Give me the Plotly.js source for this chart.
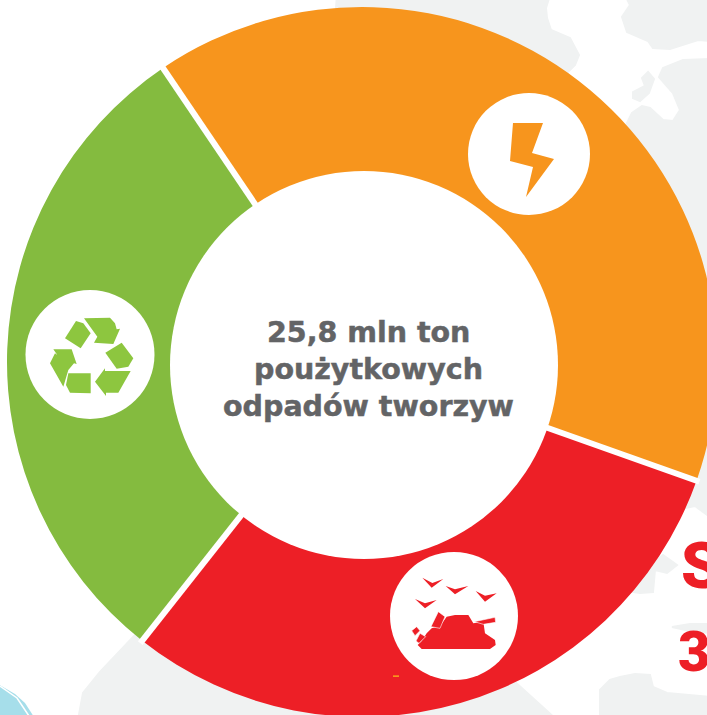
<!DOCTYPE html>
<html><head><meta charset="utf-8">
<script src="https://cdn.plot.ly/plotly-3.0.1.min.js"></script>
<style>
html,body{margin:0;padding:0;width:707px;height:715px;overflow:hidden;background:#fff}
#c{position:absolute;left:-20px;top:-20px;width:764px;height:764px}
#c .annotation-text{stroke:#636466;stroke-width:0.5px}
#c .annotation:nth-last-child(-n+2) .annotation-text{stroke:none}
</style></head><body><div id="c"></div>
<script>
// Data
var categories = ['Odzysk energii', 'Składowanie', 'Recykling'];
var values = [39.9, 30.2, 29.9];
var colors = ['#f7951d', '#ed1f26', '#84bb3f'];
var startAngle = 325.9;
var centerLines = ['25,8 mln ton', 'pou\u017Cytkowych', 'odpad\u00F3w tworzyw'];
var sideLabels = ['S', '3'];

// Geometry of the page (pixels)
var S = 764, OFF = 20, CX = 362, CY = 362, R = 355, HOLE_R = 194, HCX = 364, HCY = 365;
function px(x){return (x + OFF) / S;}
function py(y){return 1 - (y + OFF) / S;}
function pathOf(pts, close){
  return pts.map(function(p,i){return (i?'L':'M') + px(p[0]).toFixed(5) + ',' + py(p[1]).toFixed(5);}).join(' ') + (close?' Z':'');
}
function poly(pts, fill, stroke){
  return {type:'path', xref:'paper', yref:'paper', path:pathOf(pts,true), fillcolor:fill,
          line: stroke ? {color:stroke, width:0.6} : {width:0}, layer:'above'};
}
function bg(pts, fill){
  return {type:'path', xref:'paper', yref:'paper', path:pathOf(pts,true), fillcolor:fill, line:{color:fill, width:2}, layer:'below'};
}
function circle(cx, cy, r, fill){
  return {type:'circle', xref:'paper', yref:'paper', x0:px(cx-r), x1:px(cx+r), y0:py(cy+r), y1:py(cy-r),
          fillcolor:fill, line:{width:0}, layer:'above'};
}
function mapZ(list, ox, oy){return list.map(function(p){return [ox+p[0]/3, oy+p[1]/3];});}

var GRAY = '#f0f2f2', shapes = [];
// map background
[
 [[337,-5],[550,-5],[546,8],[547,18],[551,30],[570,38],[579,55],[575,65],[567,73],[500,100],[336,30],[336,8]],
 [[625,-5],[630,5],[622,17],[627,32],[648,41],[653,48],[670,49],[698,40],[710,41],[710,-5]],
 [[710,59],[683,60],[663,68],[659,77],[673,93],[680,110],[673,121],[663,120],[650,108],[642,106],[632,113],[626,125],[600,250],[640,480],[678,512],[685,508],[695,506],[710,517]],
 [[648,72],[654,79],[649,93],[640,101],[633,98],[633,92],[645,86],[642,78]],
 [[663,555],[677,565],[667,573],[655,570],[653,592],[640,593],[620,590]],
 [[672,627],[690,624],[710,624],[710,633],[690,631]],
 [[600,720],[600,690],[610,680],[620,677],[635,674],[650,675],[653,687],[667,693],[710,697],[710,720]],
 [[135,635],[100,672],[83,693],[78,720],[557,720],[513,680],[360,600]]
].forEach(function(p){shapes.push(bg(p, GRAY));});
shapes.push({type:'path', xref:'paper', yref:'paper', path:pathOf([[-2,684],[15,694],[25,703],[34,717],[-2,717]],true), fillcolor:'#a6deea', line:{width:0}, layer:'below'});
shapes.push({type:'path', xref:'paper', yref:'paper', layer:'below', line:{color:'#ffffff',width:1.5},
  path:pathOf([[0,686],[17,698],[23,707],[29,716]],false)});

// slice separators, computed from the values
var cum = 0, total = values.reduce(function(a,b){return a+b;},0);
values.forEach(function(v){
  var a = (startAngle + cum/total*360) * Math.PI/180;
  var s = Math.sin(a), c = -Math.cos(a);
  shapes.push({type:'line', xref:'paper', yref:'paper', layer:'above', line:{color:'#ffffff',width:6},
    x0:px(CX+s*(HOLE_R-8)), y0:py(CY+c*(HOLE_R-8)), x1:px(CX+s*(R+3)), y1:py(CY+c*(R+3))});
  cum += v;
});

// centre disc and icon discs
shapes.push(circle(HCX, HCY, HOLE_R, '#ffffff'));
shapes.push(circle(529, 154, 61, '#ffffff'));
shapes.push(circle(454, 616, 64, '#ffffff'));
shapes.push(circle(90, 354.5, 64.5, '#ffffff'));

// lightning
shapes.push(poly([[513,123],[543,123],[532,153],[554,159],[526,197],[533,167],[510,161]], colors[0]));

// recycling symbol
var LG = '#8dc63f';
[
 [[228,153],[250,160],[272,190],[242,235],[195,205]],
 [[252,145],[330,143],[345,160],[350,178],[360,176],[340,222],[282,218],[292,200]],
 [[365,218],[400,265],[385,290],[350,296],[316,248]],
 [[392,303],[355,368],[318,368],[318,378],[285,335],[315,295],[315,303]],
 [[205,310],[272,310],[272,370],[210,368],[198,345]],
 [[160,238],[215,238],[230,282],[222,280],[205,300],[190,350],[150,280],[165,250],[172,255]]
].forEach(function(p){shapes.push(poly(mapZ(p,0,270), LG));});

// birds and waste heap
[
 [[52,38],[82,54],[115,42],[80,68]],
 [[122,63],[150,73],[190,63],[150,88]],
 [[212,78],[240,92],[275,85],[240,110]],
 [[30,102],[60,115],[95,105],[60,130]],
 [[38,240],[50,228],[65,205],[80,190],[105,183],[125,155],[150,150],[190,150],[205,175],[235,170],[240,205],[270,225],[272,240],[255,252],[50,252]]
].forEach(function(p){shapes.push(poly(mapZ(p,405,565), colors[1]));});
[
 [[78,185],[100,140],[120,155],[105,190]],
 [[20,197],[35,185],[45,197],[30,212]],
 [[33,228],[45,205],[62,215],[42,235]],
 [[208,170],[270,157],[272,172],[235,178]]
].forEach(function(p){shapes.push(poly(mapZ(p,405,565), colors[1], '#ffffff'));});

// stray orange dash on the red slice
shapes.push(poly([[393,675.3],[399,675.3],[399,677],[393,677]], colors[0]));

// text
var lineY = [332, 369, 406];
var annotations = centerLines.map(function(t,i){
  return {text:t, xref:'paper', yref:'paper', x:px(368.5), y:py(lineY[i]), xanchor:'center', yanchor:'middle',
          showarrow:false, font:{family:'"DejaVu Sans", sans-serif', size:28.5, color:'#636466', weight:700}};
});
annotations.push({text:sideLabels[0], xref:'paper', yref:'paper', x:px(679), y:py(566), xanchor:'left', yanchor:'middle',
  showarrow:false, font:{family:'Roboto, sans-serif', size:64, color:colors[1], weight:900}});
annotations.push({text:sideLabels[1], xref:'paper', yref:'paper', x:px(676), y:py(652), xanchor:'left', yanchor:'middle',
  showarrow:false, font:{family:'Roboto, sans-serif', size:56, color:colors[1], weight:900}});

var m = (CX + OFF - R) / S;
Plotly.newPlot('c', [{
  type:'pie', labels:categories, values:values, sort:false, direction:'clockwise', rotation:startAngle,
  hole:0.5, textinfo:'none', hoverinfo:'none', marker:{colors:colors, line:{width:0}},
  domain:{x:[m,1-m], y:[m,1-m]}
}], {
  width:S, height:S, margin:{l:0,r:0,t:0,b:0}, showlegend:false,
  paper_bgcolor:'#ffffff', shapes:shapes, annotations:annotations
}, {displayModeBar:false, staticPlot:true});
</script></body></html>
